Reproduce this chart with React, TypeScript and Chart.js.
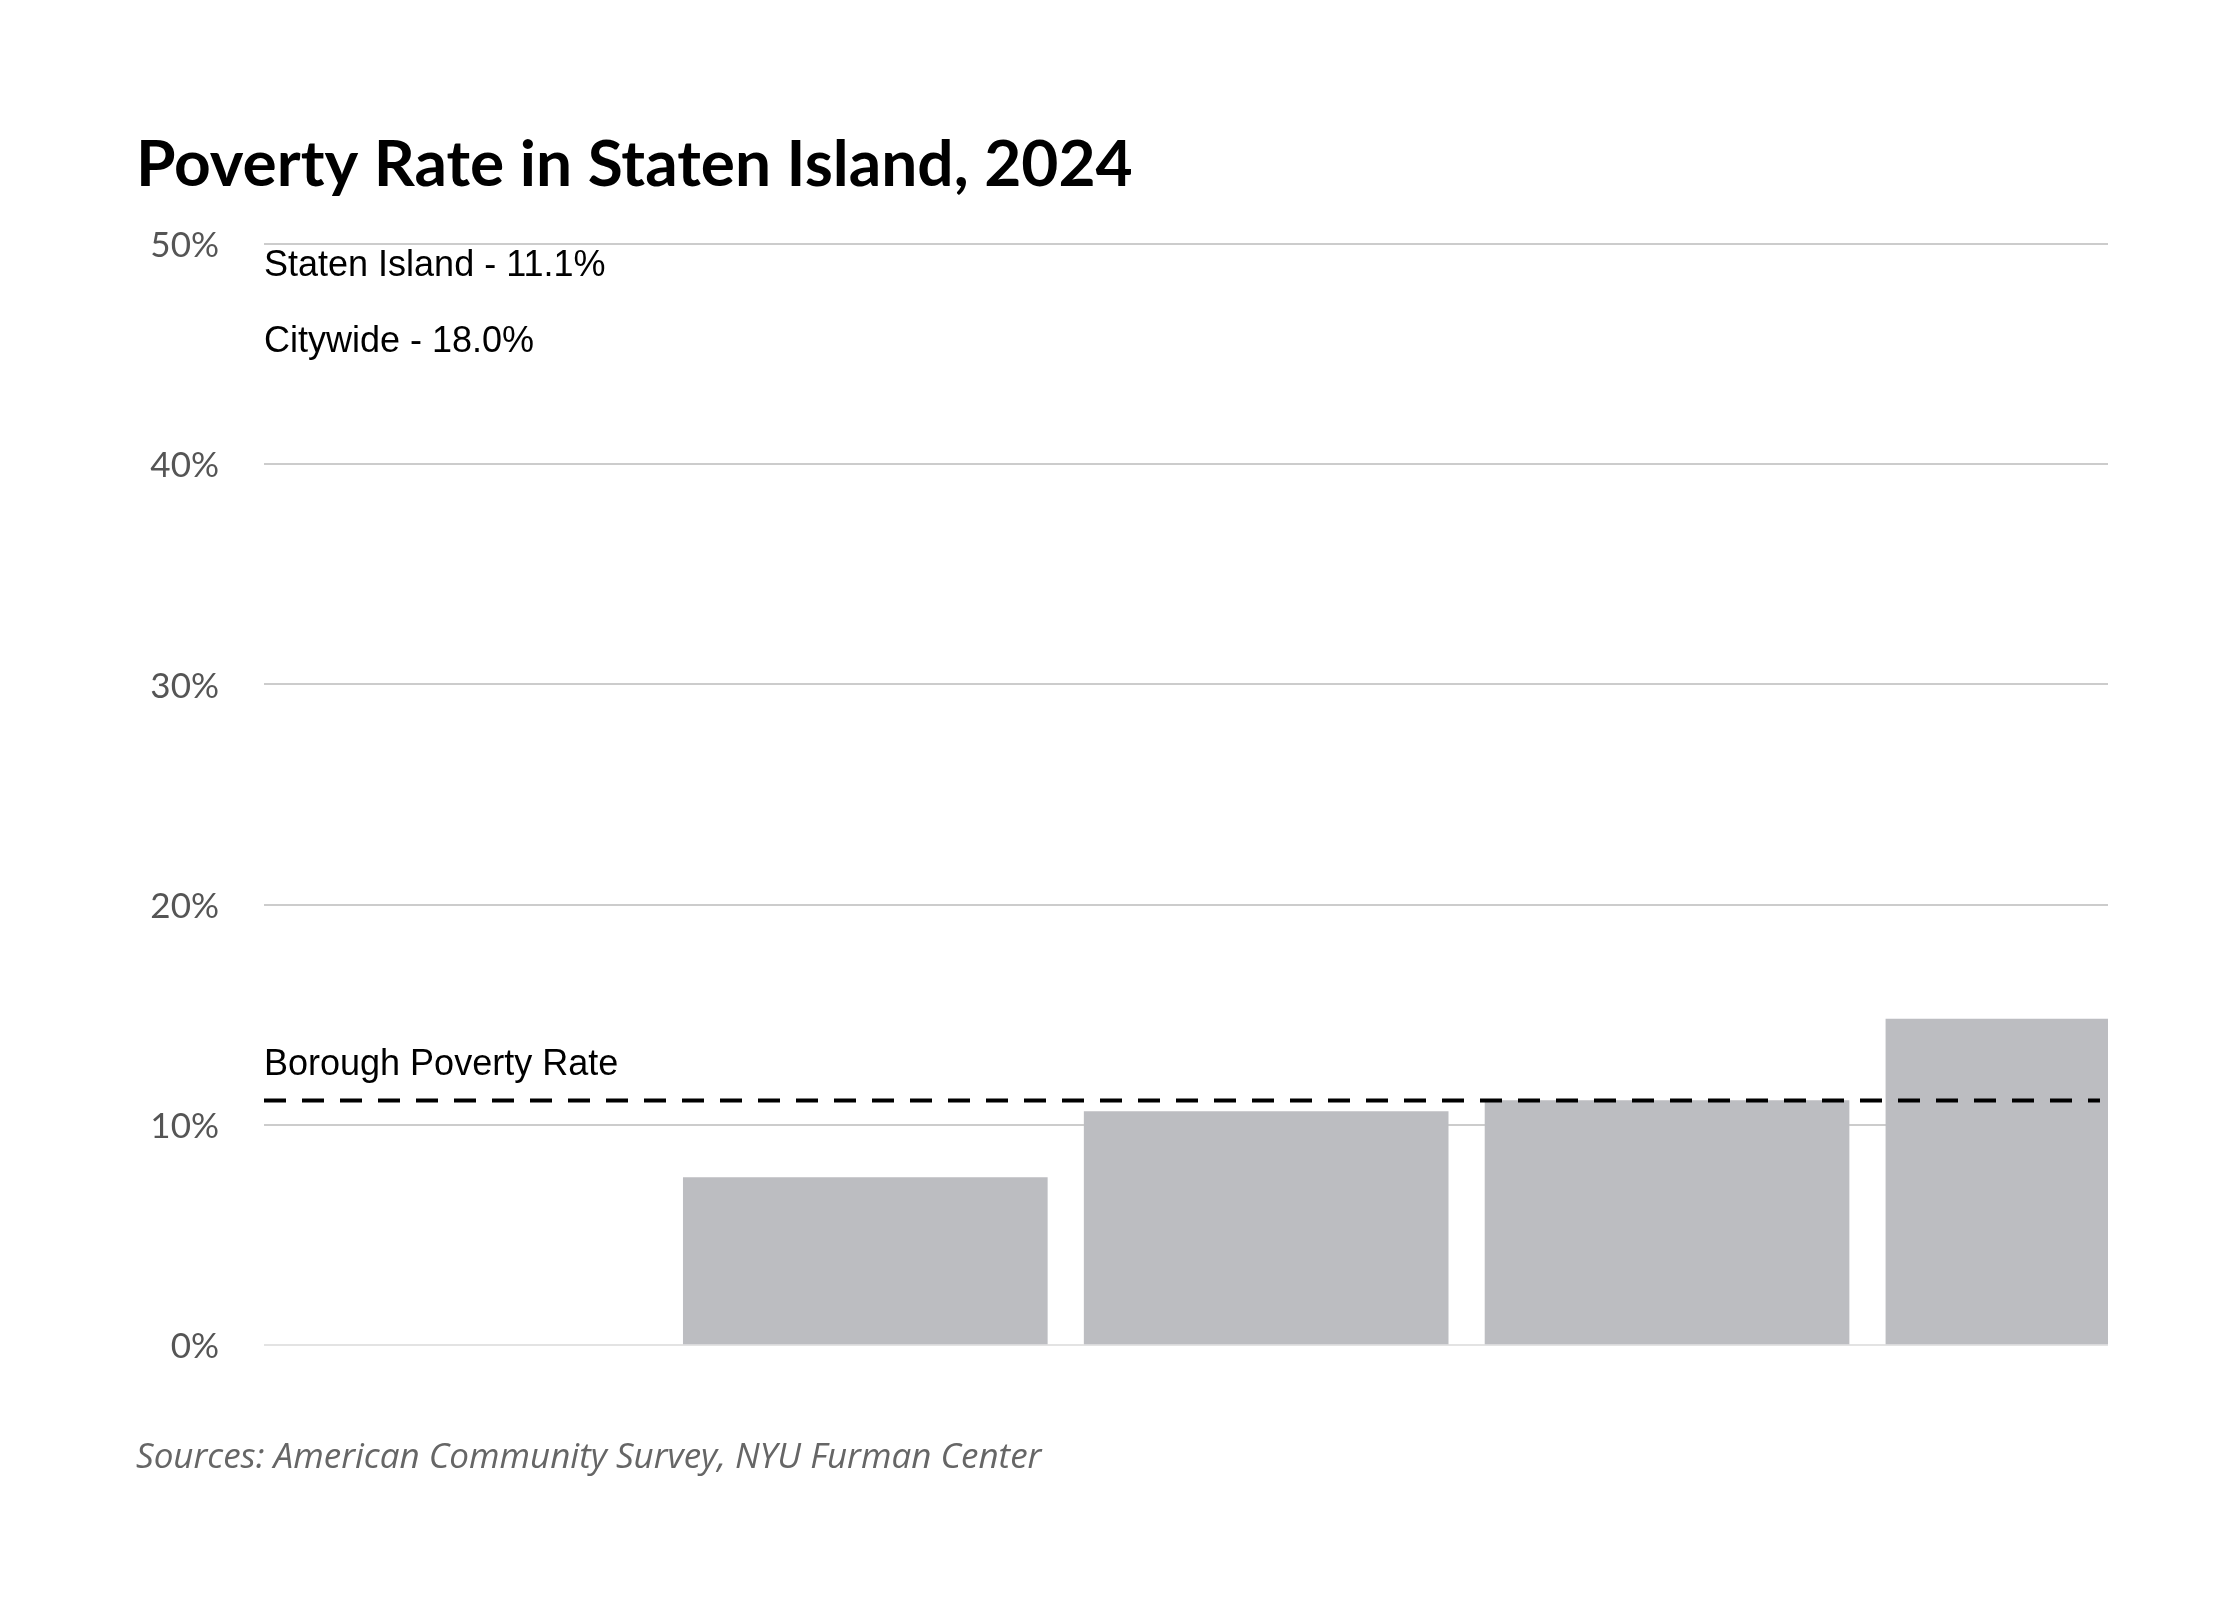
import React, { useEffect, useRef } from "react";
import { Chart, registerables } from "chart.js";
Chart.register(...registerables);

const TITLE = "Poverty Rate in Staten Island, 2024";
const SOURCE = "Sources: American Community Survey, NYU Furman Center";
const categories = ["Group 1", "Group 2", "Group 3", "Group 4"];
const barPositions = [1, 2, 3, 4];
const values = [7.6, 10.6, 11.1, 14.8];
const boroughRate = 11.1;
const citywideRate = 18.0;
const yTicks = [0, 10, 20, 30, 40, 50];

export default function App() {
  const ref = useRef<HTMLCanvasElement>(null);
  useEffect(() => {
    const textPlugin = {
      id: "texts",
      afterDraw(chart: any) {
        const ctx = chart.ctx;
        const y = chart.scales.y;
        const a = chart.chartArea;
        ctx.save();
        ctx.fillStyle = "#000";
        ctx.textAlign = "left";
        ctx.textBaseline = "alphabetic";
        ctx.font = "bold 64px Lato, 'Open Sans', sans-serif";
        ctx.fillText(TITLE, 136, 186);
        ctx.font = "italic 35px 'Open Sans', Lato, sans-serif";
        ctx.fillStyle = "#666";
        ctx.textBaseline = "middle";
        ctx.fillText(SOURCE, 136, 1458);
        ctx.fillStyle = "#555";
        ctx.font = "35px Lato, 'Open Sans', sans-serif";
        ctx.textAlign = "right";
        yTicks.forEach((t) => ctx.fillText(t + "%", 219, y.getPixelForValue(t) + 2));
        ctx.textAlign = "left";
        ctx.fillStyle = "#000";
        ctx.font = "36px 'Liberation Sans', Arial, sans-serif";
        ctx.fillText(`Staten Island - ${boroughRate.toFixed(1)}%`, a.left, 266);
        ctx.fillText(`Citywide - ${citywideRate.toFixed(1)}%`, a.left, 342);
        ctx.fillText("Borough Poverty Rate", a.left, y.getPixelForValue(boroughRate) - 35);
        ctx.restore();
      },
    };
    const chart = new Chart(ref.current!, {
      type: "bar",
      data: {
        datasets: [
          {
            type: "line",
            data: [{ x: -0.5, y: boroughRate }, { x: 4.08, y: boroughRate }],
            borderColor: "#000",
            borderWidth: 4,
            borderDash: [22, 16],
            pointRadius: 0,
            order: 0,
          } as any,
          {
            type: "bar",
            label: "Poverty",
            data: barPositions.map((x, i) => ({ x, y: values[i], c: categories[i] })),
            backgroundColor: "#bcbdc1",
            barThickness: 364,
            order: 1,
          },
        ],
      },
      options: {
        responsive: false,
        animation: false,
        devicePixelRatio: 1,
        layout: { padding: { left: 264, right: 132, top: 244, bottom: 255 } },
        plugins: { legend: { display: false }, tooltip: { enabled: false } },
        scales: {
          x: { type: "linear", min: -0.5, max: 4.1, offset: false, display: false, grid: { offset: false } },
          y: {
            min: 0,
            max: 50,
            ticks: { display: false, stepSize: 10 },
            border: { display: false },
            grid: {
              color: (c: any) => (c.tick && c.tick.value === 0 ? "#e3e3e3" : "#cccccc"),
              lineWidth: 2,
              drawTicks: false,
            },
          },
        },
      },
      plugins: [textPlugin],
    });
    return () => chart.destroy();
  }, []);
  return (
    <div style={{ position: "absolute", left: 0, top: 0, width: 2240, height: 1600, background: "#fff" }}>
      <canvas ref={ref} width={2240} height={1600} />
    </div>
  );
}
